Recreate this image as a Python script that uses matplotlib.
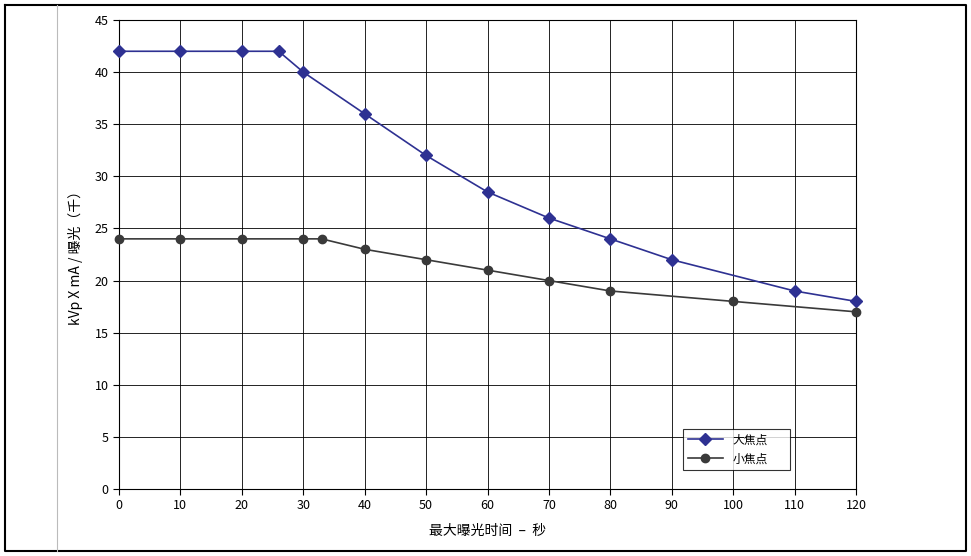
import matplotlib
matplotlib.use("Agg")
import matplotlib.pyplot as plt
from matplotlib.lines import Line2D

plt.rcParams['font.family'] = ['Noto Sans CJK SC', 'DejaVu Sans']

large_x = [0, 10, 20, 26, 30, 40, 50, 60, 70, 80, 90, 110, 120]
large_y = [42, 42, 42, 42, 40, 36, 32, 28.5, 26, 24, 22, 19, 18]
small_x = [0, 10, 20, 30, 33, 40, 50, 60, 70, 80, 100, 120]
small_y = [24, 24, 24, 24, 24, 23, 22, 21, 20, 19, 18, 17]
xticks = list(range(0, 121, 10))
yticks = list(range(0, 46, 5))

fig = plt.figure(figsize=(9.71, 5.56), dpi=100)
ax = fig.add_axes([119/971, 1-489/556, (856-119)/971, (489-20)/556])

fig.add_artist(Line2D([5/971, 966/971, 966/971, 5/971, 5/971],
                      [1-5/556, 1-5/556, 5/556, 5/556, 1-5/556],
                      color='black', lw=1.5, transform=fig.transFigure))
fig.add_artist(Line2D([57/971, 57/971], [5/556, 1-5/556], color='#bbbbbb', lw=0.8,
                      transform=fig.transFigure))

ax.plot(large_x, large_y, color='#2E3192', marker='D', ms=6, lw=1.2, label='大焦点', clip_on=False, zorder=3)
ax.plot(small_x, small_y, color='#3a3a3a', marker='o', ms=6, lw=1.2, label='小焦点', clip_on=False, zorder=3)

ax.set_xlim(0, 120)
ax.set_ylim(0, 45)
ax.set_xticks(xticks)
ax.set_yticks(yticks)
ax.grid(True, color='black', lw=0.6)
for s in ax.spines.values():
    s.set_linewidth(0.8)
ax.tick_params(labelsize=9, length=4, direction='out')
ax.set_xlabel('最大曝光时间  –  秒', fontsize=10, labelpad=8)
ax.set_ylabel('kVp X mA / 曝光（千）', fontsize=10, labelpad=8)

leg = ax.legend(loc='lower left', bbox_to_anchor=((683-119)/737, (489-470)/469, 107/737, 45/469),
                mode='expand', fontsize=8.5, frameon=True, fancybox=False, edgecolor='black',
                handlelength=3, borderaxespad=0)
leg.get_frame().set_linewidth(0.8)

fig.savefig('out.png', dpi=100)
